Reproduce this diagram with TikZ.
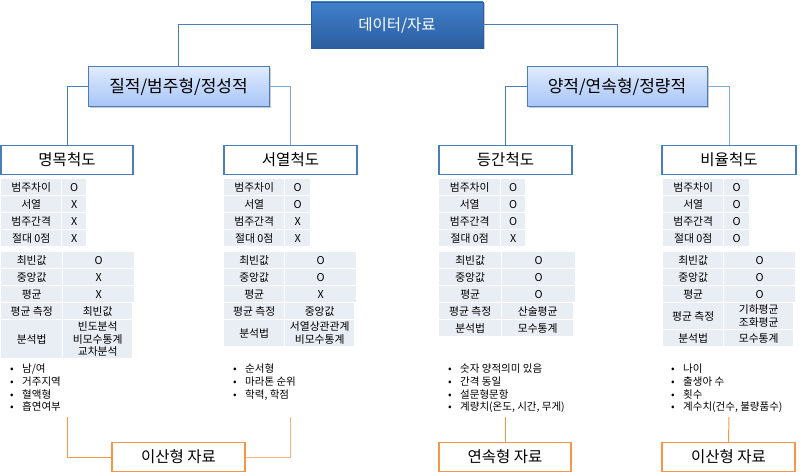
\documentclass[tikz,border=0pt]{standalone}
\usepackage{fontspec}
\setmainfont{Noto Sans CJK KR}
\usetikzlibrary{shadows}
\definecolor{topA}{HTML}{4080CC}
\definecolor{topB}{HTML}{2C5E9F}
\definecolor{midA}{HTML}{E0EBFD}
\definecolor{midB}{HTML}{A6C4F7}
\definecolor{edge}{HTML}{4A7EBB}
\definecolor{lightedge}{HTML}{84AADA}
\definecolor{cellfill}{HTML}{E9EDF4}
\definecolor{orng}{HTML}{F79646}
\definecolor{lightorng}{HTML}{F9B47E}
\tikzset{
  myshadow/.style={drop shadow={shadow xshift=1.5pt, shadow yshift=-1.5pt, opacity=0.35, fill=black!60}},
  topbox/.style={draw=topB, line width=0.6pt, top color=topA, bottom color=topB, text=white,
     font=\fontsize{15.5}{18}\selectfont, inner sep=0pt, myshadow},
  midbox/.style={draw=edge, line width=1pt, top color=midA, bottom color=midB, text=black,
     font=\fontsize{17}{20}\selectfont, inner sep=0pt, myshadow},
  scalebox/.style={draw=edge, line width=1.3pt, fill=white, font=\fontsize{15.5}{18}\selectfont,
     inner sep=0pt, minimum height=29pt},
  databox/.style={draw=orng, line width=1.3pt, fill=white, font=\fontsize{15.5}{18}\selectfont,
     inner sep=0pt, minimum height=29pt},
  conn/.style={draw=edge, line width=1pt},
  lconn/.style={draw=lightedge, line width=1pt},
  oconn/.style={draw=orng, line width=1pt},
  loconn/.style={draw=lightorng, line width=1pt},
  cell/.style={fill=cellfill, inner sep=0pt, align=center, anchor=north west,
     font=\fontsize{10.8}{12.6}\selectfont},
  bullets/.style={inner sep=0pt, align=left, anchor=north west,
     font=\fontsize{10.5}{12.7}\selectfont}
}
% cell: name, x1, y1, x2, y2, text
\newcommand\tc[6]{\node[cell, minimum width={(#4-#2)*1pt}, minimum height={(#5-#3)*1pt}] (#1) at (#2,#3) {#6};}
% first table: prefix, x1, x2, x3, v1..v4
\newcommand\firsttab[8]{%
  \tc{#1a1}{#2}{179}{#3}{195}{범주차이}\tc{#1b1}{#3+1}{179}{#4}{195}{#5}%
  \tc{#1a2}{#2}{196}{#3}{212}{서열}\tc{#1b2}{#3+1}{196}{#4}{212}{#6}%
  \tc{#1a3}{#2}{213}{#3}{229}{범주간격}\tc{#1b3}{#3+1}{213}{#4}{229}{#7}%
  \tc{#1a4}{#2}{230}{#3}{246}{절대 0점}\tc{#1b4}{#3+1}{230}{#4}{246}{#8}}
% second table: prefix, x1, x2, x3, v1..v3
\newcommand\secondtab[7]{%
  \tc{#1c1}{#2}{252}{#3}{268}{최빈값}\tc{#1d1}{#3+1}{252}{#4}{268}{#5}%
  \tc{#1c2}{#2}{269}{#3}{285}{중앙값}\tc{#1d2}{#3+1}{269}{#4}{285}{#6}%
  \tc{#1c3}{#2}{286}{#3}{302}{평균}\tc{#1d3}{#3+1}{286}{#4}{302}{#7}}
\newcommand\bl[1]{\makebox[12pt][l]{•}#1}
\begin{document}
\begin{tikzpicture}[x=1pt,y=-1pt]
\useasboundingbox (0,0) rectangle (803,476);
% top-level nodes
\node[topbox, minimum width=172pt, minimum height=46pt] (data) at (397,25) {데이터/자료};
\node[midbox, minimum width=181pt, minimum height=40pt] (qual) at (178.5,87) {질적/범주형/정성적};
\node[midbox, minimum width=180pt, minimum height=40pt] (quant) at (617,87) {양적/연속형/정량적};
\node[scalebox, minimum width=132pt] (nom) at (67,160) {명목척도};
\node[scalebox, minimum width=133pt] (ord) at (290.5,160) {서열척도};
\node[scalebox, minimum width=133pt] (int) at (505.5,160) {등간척도};
\node[scalebox, minimum width=134pt] (rat) at (729,160) {비율척도};
% connectors
\draw[conn] (data.west) -| (qual.north);
\draw[conn] (data.east) -| (quant.north);
\draw[conn] (qual.west) -| (nom.north);
\draw[lconn] (qual.east) -| (ord.north);
\draw[conn] (quant.west) -| (int.north);
\draw[lconn] (quant.east) -| (rat.north);
% tables
\firsttab{m}{1}{61}{84}{O}{X}{X}{X}
\secondtab{m}{1}{62}{132}{O}{X}{X}
\tc{mc4}{1}{303}{62}{319}{평균 측정}\tc{md4}{63}{303}{132}{319}{최빈값}
\tc{mc5}{1}{320}{62}{358}{분석법}\tc{md5}{63}{320}{132}{358}{빈도분석\\비모수통계\\교차분석}
\firsttab{s}{224}{284}{308}{O}{O}{X}{X}
\secondtab{s}{224}{284}{354}{O}{O}{X}
\tc{sc4}{224}{303}{284}{319}{평균 측정}\tc{sd4}{285}{303}{354}{319}{중앙값}
\tc{sc5}{224}{320}{284}{346}{분석법}\tc{sd5}{285}{320}{354}{346}{서열상관관계\\비모수통계}
\firsttab{g}{439}{500}{523}{O}{O}{O}{X}
\secondtab{g}{439}{501}{573}{O}{O}{O}
\tc{gc4}{439}{303}{501}{319}{평균 측정}\tc{gd4}{502}{303}{573}{319}{산술평균}
\tc{gc5}{439}{320}{501}{336}{분석법}\tc{gd5}{502}{320}{573}{336}{모수통계}
\firsttab{r}{663}{723}{747}{O}{O}{O}{O}
\secondtab{r}{663}{723}{793}{O}{O}{O}
\tc{rc4}{663}{303}{723}{329}{평균 측정}\tc{rd4}{724}{303}{793}{329}{기하평균\\조화평균}
\tc{rc5}{663}{330}{723}{346}{분석법}\tc{rd5}{724}{330}{793}{346}{모수통계}
% bullet lists
\node[bullets] (l1) at (10,364) {\bl{남/여}\\\bl{거주지역}\\\bl{혈액형}\\\bl{흡연여부}};
\node[bullets] (l2) at (233,364) {\bl{순서형}\\\bl{마라톤 순위}\\\bl{학력, 학점}};
\node[bullets] (l3) at (448,364) {\bl{숫자 양적의미 있음}\\\bl{간격 동일}\\\bl{설문형문항}\\\bl{계량치(온도, 시간, 무게)}};
\node[bullets] (l4) at (671,364) {\bl{나이}\\\bl{출생아 수}\\\bl{횟수}\\\bl{계수치(건수, 불량품수)}};
% bottom boxes
\node[databox, minimum width=133pt] (disc1) at (178.5,457) {이산형 자료};
\node[databox, minimum width=132pt] (cont) at (505,457) {연속형 자료};
\node[databox, minimum width=133pt] (disc2) at (728.5,457) {이산형 자료};
\coordinate (e1) at (67,417);
\coordinate (e2) at (290,417);
\coordinate (e3) at (505,417);
\coordinate (e4) at (729,417);
\draw[oconn] (disc1.west) -| (e1);
\draw[loconn] (disc1.east) -| (e2);
\draw[oconn] (cont.north) -- (e3);
\draw[oconn] (disc2.north) -- (e4);
\end{tikzpicture}
\end{document}
